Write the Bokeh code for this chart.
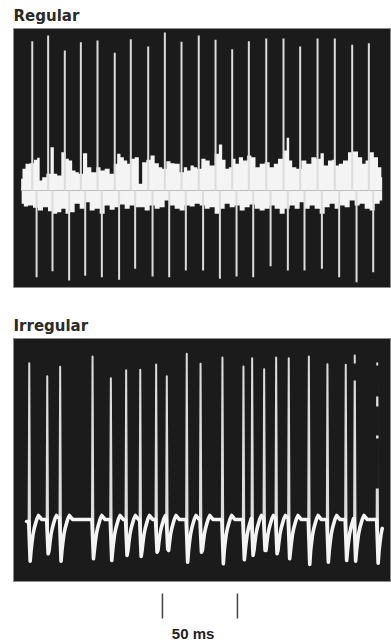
import numpy as np
from bokeh.plotting import figure
from bokeh.layouts import column
from bokeh.models import Range1d
from bokeh.embed import file_html
from bokeh.resources import INLINE
from bokeh.core.properties import value

# ---------------- data (time in ms, amplitude in arbitrary units) ----------------
# Regular firing: spike times, positive peaks and negative troughs
reg_spike_t = [12.5, 23.1, 34.2, 44.9, 56.0, 67.5, 78.2, 89.8, 100.9, 112.0, 123.5,
               134.7, 145.8, 156.9, 168.5, 180.0, 191.1, 202.7, 214.2, 225.8, 236.9]
reg_spike_peak = [149.3, 155, 140, 148.3, 150, 137.7, 151.3, 144, 158, 148.7, 155,
                  150.7, 141.3, 149.3, 152, 152, 144, 152, 152, 145.7, 147.3]
reg_spike_trough = [-86.7, -80.7, -90, -85.3, -86.7, -89.3, -78.3, -86, -86.7, -80, -80,
                    -88.3, -86, -86.7, -75.7, -80, -80, -78.3, -86.7, -91.7, -81.7]
reg_trough_lag = 2.9  # ms between positive and negative phase

# Regular firing: background noise envelope (upper and lower edges)
reg_env_up_t = [5.11, 6.89, 9.11, 12.44, 14.67, 16.89, 18.0, 20.22, 23.56, 25.78, 28.0, 30.22,
                33.56, 35.78, 38.0, 40.22, 42.44, 44.67, 48.0, 50.22, 53.56, 56.89, 59.11,
                62.44, 65.78, 68.0, 70.22, 72.44, 74.67, 76.89, 79.11, 82.44, 84.67, 86.89,
                90.22, 92.44, 95.78, 98.0, 100.22, 103.56, 105.78, 109.11, 112.44, 114.67,
                116.89, 119.11, 121.33, 123.56, 126.89, 129.11, 132.44, 135.78, 138.0,
                140.22, 142.44, 144.67, 146.89, 149.11, 151.33, 154.67, 156.89, 160.22,
                162.44, 165.78, 169.11, 172.44, 174.67, 178.0, 181.33, 182.89, 184.67,
                186.89, 190.22, 193.56, 196.89, 200.22, 203.56, 205.78, 208.0, 211.33,
                213.56, 215.78, 218.0, 221.33, 224.67, 228.0, 231.33, 233.56, 235.78,
                239.11, 241.33, 244.67, 245.78]
reg_env_up_v = [11.7, 21.7, 26.7, 27.3, 30.7, 32.7, 10, 13.3, 16.7, 43.3, 16.7, 15,
                38.3, 31.7, 30, 20, 18.3, 16.7, 37.3, 23.3, 18.3, 23.3, 20,
                21.7, 16.7, 26.7, 36.7, 33.3, 30, 26.7, 31.7, 33.3, 6.7, 28.3,
                30.7, 35, 27.3, 23.3, 21.7, 29.3, 27.3, 26.7, 18.3, 23.3,
                20, 25, 23.3, 21.7, 31.7, 30, 25, 36.7, 46,
                30.7, 21.7, 23.3, 31.7, 26.7, 33.3, 30, 35, 33.3,
                23.3, 26.7, 28.3, 23.3, 26.7, 31.7, 40, 52.7, 30,
                23.3, 21.7, 30, 26.7, 33.3, 31.7, 37.3, 25, 30,
                30.7, 25, 26.7, 30, 38.3, 39, 33.3, 26.7, 30,
                38.3, 33.3, 23.3, 13.3]
reg_env_lo_t = [5.11, 5.78, 8.0, 11.33, 14.67, 18.0, 21.33, 24.67, 28.0, 30.22, 33.56, 35.78,
                39.11, 42.44, 45.78, 49.11, 52.44, 55.78, 59.11, 62.44, 65.78, 69.11, 72.44,
                75.78, 79.11, 82.44, 85.78, 89.11, 92.44, 95.78, 99.11, 102.44, 105.78,
                109.11, 112.44, 115.78, 119.11, 122.44, 125.78, 129.11, 132.44, 135.78,
                139.11, 142.44, 145.78, 149.11, 152.44, 155.78, 159.11, 162.44, 165.78,
                169.11, 172.44, 175.78, 179.11, 182.44, 185.78, 189.11, 192.44, 195.78,
                199.11, 202.44, 205.78, 209.11, 212.44, 215.78, 219.11, 222.44, 225.78,
                229.11, 232.44, 235.78, 239.11, 242.44, 245.78]
reg_env_lo_v = [3.3, -13.3, -16, -15, -17.3, -20, -16.7, -20.7, -23.3, -21.7, -18.3, -23.3,
                -21.7, -13.3, -18.3, -11.7, -20, -18.3, -23.3, -15, -19.3, -16.7, -14,
                -18.3, -15, -16.7, -16.7, -20, -15, -18.3, -16.7, -10, -15,
                -18.3, -20, -15, -16, -13.3, -15, -18.3, -16.7, -23.3,
                -18.3, -13.3, -16.7, -15, -20, -16.7, -14, -18.3, -20,
                -18.3, -15, -18.3, -23.3, -18.3, -15, -18.3, -11.7, -18.3,
                -15, -18.3, -23.3, -16.7, -13.3, -18.3, -15, -16.7, -10,
                -15, -13.3, -18.3, -20, -13.3, -10]

# Irregular firing: spike times, peaks and after-hyperpolarisation troughs
irr_spike_t = [10.5, 22.5, 31.1, 52.7, 64.9, 75.1, 84.5, 95.1, 102.2, 115.5, 124.7,
               139.3, 153.3, 159.1, 167.1, 175.1, 183.5, 196.9, 209.3, 221.5, 227.5, 242.5]
irr_spike_peak = [157.3, 144.3, 153.7, 164, 142.3, 150.3, 150.7, 156, 144.3, 166.7, 156.7,
                  163, 154, 162.3, 151.3, 163, 162.3, 164, 156.3, 155.7, 165, 157.3]
irr_spike_trough = [-40.7, -33.3, -40.7, -38.3, -40, -35, -36, -31.7, -28.3, -41.7, -31.7,
                    -43.3, -39.3, -35, -30, -33.3, -38.3, -44, -41.7, -40, -40.7, -42.7]
irr_trough_lag = 0.6                                                 # ms from peak to trough
irr_recovery_dt = [1.2, 1.8, 2.5, 3.3, 4.2, 5.2, 6.2, 7.2, 8.4]      # ms after spike onset
irr_recovery_v = [-30, -22, -14, -8, -3, 2, 5, 3, 1]
irr_trace_start = [8.7, -1.0]
irr_trace_end = 246.5
# faded stretches of the last spikes (time, from, to)
irr_gap_t = [227.5, 242.5, 242.5, 242.5]
irr_gap_v0 = [140, 124, 85, 32]
irr_gap_v1 = [157, 155, 114, 82]

scale_bar_ms = [99.3, 149.3]
scale_bar_label = "50 ms"

# ---------------- build irregular trace ----------------
full_x, full_y = [irr_trace_start[0]], [irr_trace_start[1]]
thick_x, thick_y = [irr_trace_start[0]], [irr_trace_start[1]]
n = len(irr_spike_t)
for i, ts in enumerate(irr_spike_t):
    nxt = irr_spike_t[i + 1] - 0.4 if i + 1 < n else irr_trace_end
    prev = full_y[-1]
    full_x += [ts - 0.4, ts, ts + irr_trough_lag]
    full_y += [prev, irr_spike_peak[i], irr_spike_trough[i]]
    thick_x += [ts - 0.4, ts + irr_trough_lag]
    thick_y += [prev, irr_spike_trough[i]]
    for dt, v in zip(irr_recovery_dt, irr_recovery_v):
        if ts + dt < nxt:
            full_x.append(ts + dt); full_y.append(v)
            thick_x.append(ts + dt); thick_y.append(v)

BOX = "#1b1b1b"
TRACE = "#f4f4f4"
SPIKE = "#dcdcdc"


def panel(height, top, bottom, y_rng, title):
    p = figure(width=391, height=height, x_range=Range1d(0, 252), y_range=Range1d(*y_rng),
               output_backend="svg", toolbar_location=None,
               x_axis_location=None, y_axis_location=None,
               min_border_left=13, min_border_right=0,
               min_border_top=top, min_border_bottom=bottom,
               background_fill_color=BOX, border_fill_color="white",
               outline_line_color="#8c8c8c", outline_line_width=1, title=title)
    p.grid.visible = False
    p.title.align = "left"
    p.title.text_font = "DejaVu Sans"
    p.title.text_font_size = "15px"
    p.title.text_font_style = "bold"
    p.title.text_color = "#2a2a2a"
    p.title.standoff = 8
    return p


# ---------------- Regular panel ----------------
p1 = panel(300, 28, 13, (-97, 162), "Regular")
up_t = np.array(reg_env_up_t)
lo_t = np.array(reg_env_lo_t)
p1.varea_step(x=up_t, y1=np.zeros(len(up_t)), y2=reg_env_up_v, step_mode="center",
              fill_color=TRACE)
p1.varea_step(x=lo_t, y1=reg_env_lo_v, y2=np.zeros(len(lo_t)), step_mode="center",
              fill_color=TRACE)
rt = np.array(reg_spike_t)
p1.segment(x0=rt, y0=np.zeros(len(rt)), x1=rt, y1=reg_spike_peak,
           line_color=SPIKE, line_width=2)
p1.segment(x0=rt + reg_trough_lag, y0=np.zeros(len(rt)), x1=rt + reg_trough_lag,
           y1=reg_spike_trough, line_color=SPIKE, line_width=2)

# ---------------- Irregular panel ----------------
p2 = panel(282, 38, 0, (-62, 182), "Irregular")
p2.line(full_x, full_y, line_color=SPIKE, line_width=2, line_join="round")
p2.line(thick_x, thick_y, line_color=TRACE, line_width=3.6, line_join="round",
        line_cap="round")
gt = np.array(irr_gap_t) - 0.2
p2.segment(x0=gt, y0=irr_gap_v0, x1=gt, y1=irr_gap_v1, line_color=BOX, line_width=4)

# ---------------- scale bar ----------------
p3 = figure(width=391, height=60, x_range=p2.x_range, y_range=Range1d(0, 60),
            output_backend="svg", toolbar_location=None,
            x_axis_location=None, y_axis_location=None,
            min_border_left=13, min_border_right=0, min_border_top=0, min_border_bottom=0,
            background_fill_color="white", border_fill_color="white",
            outline_line_color=None)
p3.grid.visible = False
p3.segment(x0=scale_bar_ms, y0=[24, 24], x1=scale_bar_ms, y1=[49, 49],
           line_color="#444444", line_width=1.5)
p3.text(x=[(scale_bar_ms[0] + scale_bar_ms[1]) / 2 - 4.6], y=[9], text=[scale_bar_label],
        text_align="center", text_baseline="middle", text_font=value("Liberation Sans"),
        text_font_size="15px", text_font_style="bold", text_color="#222222")

layout = column(p1, p2, p3, spacing=0)
open("out.html", "w").write(file_html(layout, INLINE))
